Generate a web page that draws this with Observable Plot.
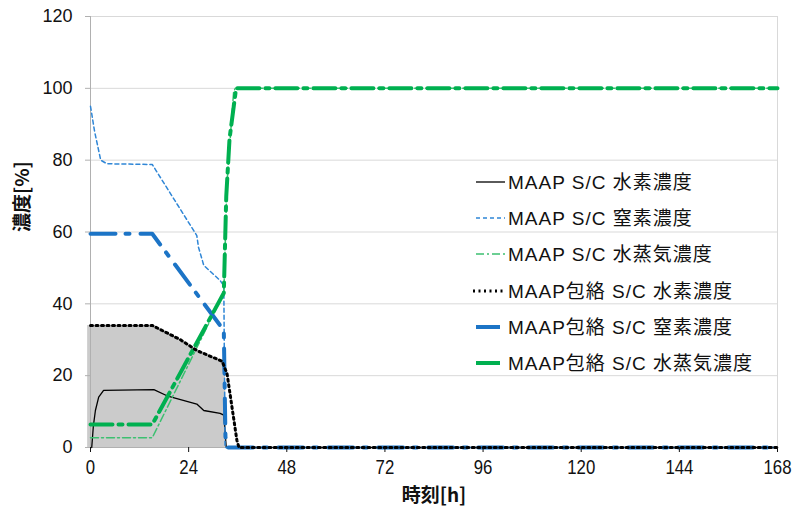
<!DOCTYPE html>
<html>
<head>
<meta charset="utf-8">
<script src="https://cdn.jsdelivr.net/npm/d3@7"></script>
<script src="https://cdn.jsdelivr.net/npm/@observablehq/plot@0.6"></script>
<style>
  html, body { margin: 0; padding: 0; background: #fff; }
  #wrap { position: relative; width: 798px; height: 517px; }
  #legend { position: absolute; left: 0; top: 0; pointer-events: none; }
</style>
</head>
<body>
<div id="wrap"></div>
<script>
// ---- tick labels ----
const xTicks = [0, 24, 48, 72, 96, 120, 144, 168];
const yTicks = [0, 20, 40, 60, 80, 100, 120];

// ---- series (time [h], concentration [%]) ----
const h2_t   = [0.3, 0.7, 1.2, 2.0, 3.2, 15.5, 18.7, 26.0, 27.7, 31.7, 32.6, 33.2, 168];
const h2_v   = [0,   6,   10.3, 14, 15.9, 16.1, 14.4, 12.1, 10.3, 9.5, 9.0, 0, 0];

const n2_t   = [0,  1.0, 2.5, 4.0, 15.1, 26.0, 26.4, 27.7, 31.7, 32.6, 32.9, 168];
const n2_v   = [95, 88,  80,  79,  78.8, 59,   55.8, 50.7, 46.5, 45.0, 0,   0];

const h2o_t  = [0,   15.1, 32.6, 33.4, 35.0, 35.4, 168];
const h2o_v  = [2.7, 2.7,  43,   74,   99,   100,  100];

const envH2_t = [0,  15.1, 22.0, 26.0, 32.2, 33.4, 35.8, 36.3, 168];
const envH2_v = [34, 34,   30,   27,   24,   20.5, 2,    0,    0];

const envN2_t = [0,    15.1, 32.6, 33.0, 33.5, 168];
const envN2_v = [59.5, 59.5, 32.6, 3,    0,    0];

const envH2O_t = [0,   15.1, 32.6, 33.2, 34.0, 35.6, 168];
const envH2O_v = [6.4, 6.4,  43,   70,   86,   100,  100];

// grey shaded area (not in legend)
const shade_t = [-0.7, 15.1, 22.0, 26.0, 32.2, 33.0, 33.3];
const shade_v = [34,   34,   30,   27,   24,   22,   0];

const names = [
  "MAAP S/C 水素濃度",
  "MAAP S/C 窒素濃度",
  "MAAP S/C 水蒸気濃度",
  "MAAP包絡 S/C 水素濃度",
  "MAAP包絡 S/C 窒素濃度",
  "MAAP包絡 S/C 水蒸気濃度"
];

const toRows = (t, v) => t.map((x, i) => ({x, y: v[i]}));

const styles = [
  {stroke: "#000000", strokeWidth: 1.3, dash: null},
  {stroke: "#2f86d6", strokeWidth: 1.5, dash: "4,3"},
  {stroke: "#3cc070", strokeWidth: 1.5, dash: "8,3,2,3"},
  {stroke: "#000000", strokeWidth: 3,   dash: "2,3.5"},
  {stroke: "#1c74c6", strokeWidth: 4,   dash: "25,10,4,11"},
  {stroke: "#00b050", strokeWidth: 4,   dash: "22,6,4,6"}
];
const seriesData = [
  toRows(h2_t, h2_v),
  toRows(n2_t, n2_v),
  toRows(h2o_t, h2o_v),
  toRows(envH2_t, envH2_v),
  toRows(envN2_t, envN2_v),
  toRows(envH2O_t, envH2O_v)
];
const drawOrder = [0, 1, 2, 4, 5, 3];

const lineMarks = drawOrder.map(i => Plot.line(seriesData[i], {
  x: "x", y: "y",
  stroke: styles[i].stroke,
  strokeWidth: styles[i].strokeWidth,
  strokeDasharray: styles[i].dash,
  strokeLinejoin: "round",
  curve: "linear"
}));

const chart = Plot.plot({
  width: 798, height: 517,
  marginLeft: 90, marginRight: 21, marginTop: 16, marginBottom: 70,
  x: {domain: [0, 168]},
  y: {domain: [0, 120]},
  style: {fontFamily: "'Liberation Sans', Arial, 'Noto Sans CJK JP', sans-serif", background: "#fff", overflow: "visible"},
  marks: [
    Plot.gridY(yTicks, {stroke: "#d9d9d9", strokeOpacity: 1, strokeWidth: 1}),
    Plot.ruleX([168], {stroke: "#d9d9d9", strokeWidth: 1}),
    Plot.areaY(toRows(shade_t, shade_v), {x: "x", y: "y", fill: "#cbcbcb"}),
    Plot.ruleX([0], {stroke: "#b0b0b0", strokeWidth: 1}),
    Plot.ruleY([0], {stroke: "#b0b0b0", strokeWidth: 1}),
    ...lineMarks,
    Plot.axisY({ticks: yTicks, tickSize: 5, tickPadding: 13, fontSize: 18, label: null, stroke: "#b0b0b0", color: "#111",
      fontFamily: "'Liberation Sans', Arial, sans-serif"}),
    Plot.axisX({ticks: xTicks, tickSize: 5, tickPadding: 7, fontSize: 21, label: null, tickFormat: d => String(d), color: "#111",
      fontFamily: "'Liberation Sans', Arial, sans-serif"}),
    Plot.text(["濃度[%]"], {frameAnchor: "left", dx: -68, rotate: -90, fontSize: 19, fontWeight: "bold", fill: "#111",
      fontFamily: "'Noto Sans CJK JP', sans-serif"}),
    Plot.text(["時刻[h]"], {frameAnchor: "bottom", dy: 54, fontSize: 19, fontWeight: "bold", fill: "#111",
      fontFamily: "'Noto Sans CJK JP', sans-serif"})
  ]
});

const wrap = document.getElementById("wrap");
wrap.appendChild(chart);

// condense the x tick labels horizontally (narrow face in the reference)
const tickSet = new Set(xTicks.map(String));
const svgTop = chart.getBoundingClientRect().top;
chart.querySelectorAll("text").forEach(el => {
  const txt = el.textContent.trim();
  if (!tickSet.has(txt)) return;
  const r = el.getBoundingClientRect();
  if (r.top - svgTop < 452) return;          // only labels below the x axis
  const b = el.getBBox();
  const cx = b.x + b.width / 2;
  const tr = el.getAttribute("transform") || "";
  el.setAttribute("transform", `${tr} translate(${cx},0) scale(0.8,1) translate(${-cx},0)`);
});

// ---- legend overlay ----
const legendRows = [182, 218, 254, 291, 327, 363];
const svg = d3.select(wrap).append("svg")
  .attr("id", "legend").attr("width", 798).attr("height", 517);
names.forEach((name, i) => {
  const y = legendRows[i];
  const s = styles[i];
  const thick = s.strokeWidth >= 4;
  const x0 = i === 3 ? 473 : 476, x1 = thick ? 500 : 505;
  svg.append("line")
    .attr("x1", x0).attr("x2", x1).attr("y1", y).attr("y2", y)
    .attr("stroke", s.stroke).attr("stroke-width", s.strokeWidth)
    .attr("stroke-dasharray", thick ? null : s.dash);
  svg.append("text")
    .attr("x", 508).attr("y", y).attr("dy", "0.36em")
    .attr("font-size", 19)
    .attr("letter-spacing", 1)
    .attr("font-family", "'Liberation Sans', Arial, 'Noto Sans CJK JP', sans-serif")
    .attr("fill", "#111")
    .text(name);
});
</script>
</body>
</html>
